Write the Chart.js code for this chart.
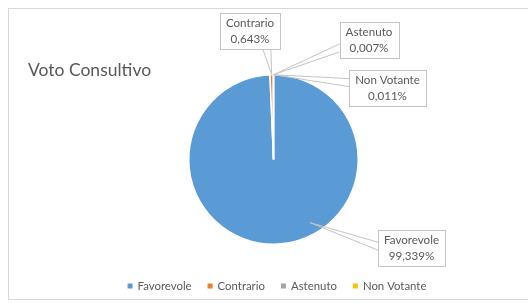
<!DOCTYPE html>
<html>
<head>
<meta charset="utf-8">
<script src="https://cdn.jsdelivr.net/npm/chart.js@4"></script>
<style>
  html, body { margin: 0; padding: 0; background: #fff; overflow: hidden; }
  #frame { position: absolute; left: 8px; top: 8px; width: 540px; height: 290px; border: 1px solid #d9d9d9; }
  #wrap { position: absolute; left: 0; top: 0; width: 528px; height: 303px; }
</style>
</head>
<body>
<div id="frame"></div>
<div id="wrap"><canvas id="myChart" width="528" height="303"></canvas></div>
<script>
// data
const chartTitle = 'Voto Consultivo';
const categories = ['Favorevole', 'Contrario', 'Astenuto', 'Non Votante'];
const percentages = [99.339, 0.643, 0.007, 0.011];
const colors = ['#5B9BD5', '#ED7D31', '#A5A5A5', '#FFC000'];

// callout box centres and where the wedge meets the box
const calloutBoxes = [
    { cx: 411.5, cy: 248, side: 'left', at: 0.45, anchorAngle: 150, anchorR: 0.86 },
    { cx: 250, cy: 31, side: 'bottom', at: 0.78 },
    { cx: 369, cy: 40, side: 'left', at: 0.72 },
    { cx: 387.5, cy: 88, side: 'left', at: 0.35 }
];

const textColor = '#595959';
const fontFamily = 'Lato, "Open Sans", sans-serif';

function fmt(v) {
    return v.toFixed(3).replace('.', ',') + '%';
}

const calloutPlugin = {
    id: 'callouts',
    afterDraw(chart) {
        const ctx = chart.ctx;
        const meta = chart.getDatasetMeta(0);
        ctx.save();

        // title
        ctx.fillStyle = textColor;
        ctx.font = '17.5px ' + fontFamily;
        ctx.textAlign = 'left';
        ctx.textBaseline = 'middle';
        ctx.fillText(chartTitle, 28, 70);

        ctx.font = '11.6px ' + fontFamily;
        meta.data.forEach((arc, i) => {
            const p = arc.getProps(['x', 'y', 'outerRadius', 'startAngle', 'endAngle'], true);
            const box = calloutBoxes[i];
            let ang, r;
            if (box.anchorAngle !== undefined) {
                ang = (box.anchorAngle - 90) * Math.PI / 180;
                r = p.outerRadius * box.anchorR;
            } else {
                ang = (p.startAngle + p.endAngle) / 2;
                r = p.outerRadius;
            }
            const ax = p.x + Math.cos(ang) * r;
            const ay = p.y + Math.sin(ang) * r;

            const line1 = categories[i];
            const line2 = fmt(percentages[i]);
            const w = Math.max(ctx.measureText(line1).width, ctx.measureText(line2).width) + 12;
            const h = 36;
            const left = box.cx - w / 2, top = box.cy - h / 2;

            // wedge
            let b1, b2;
            if (box.side === 'left') {
                const yy = top + h * box.at;
                b1 = [left, yy - 4];
                b2 = [left, yy + 4];
            } else {
                const xx = left + w * box.at;
                b1 = [xx - 4, top + h];
                b2 = [xx + 4, top + h];
            }
            ctx.strokeStyle = '#c4c4c4';
            ctx.lineWidth = 1;
            ctx.fillStyle = '#fff';
            ctx.beginPath();
            ctx.moveTo(b1[0], b1[1]);
            ctx.lineTo(ax, ay);
            ctx.lineTo(b2[0], b2[1]);
            ctx.stroke();

            ctx.fillRect(left, top, w, h);
            ctx.strokeRect(Math.round(left) + 0.5, Math.round(top) + 0.5, Math.round(w), h);

            ctx.fillStyle = textColor;
            ctx.textAlign = 'center';
            ctx.textBaseline = 'middle';
            ctx.fillText(line1, box.cx, box.cy - 8);
            ctx.fillText(line2, box.cx, box.cy + 8);
        });

        // legend
        ctx.font = '11.4px ' + fontFamily;
        ctx.textAlign = 'left';
        ctx.textBaseline = 'middle';
        const mk = 5, gapTxt = 5, gapItem = 16;
        const widths = categories.map(c => ctx.measureText(c).width);
        const total = widths.reduce((s, v) => s + mk + gapTxt + v, 0) + gapItem * (categories.length - 1);
        let x = 277 - total / 2;
        const ly = 286;
        categories.forEach((c, i) => {
            ctx.fillStyle = colors[i];
            ctx.fillRect(x, ly - 2.5, mk, mk);
            ctx.fillStyle = textColor;
            ctx.fillText(c, x + mk + gapTxt, ly);
            x += mk + gapTxt + widths[i] + gapItem;
        });
        ctx.restore();
    }
};

new Chart(document.getElementById('myChart').getContext('2d'), {
    type: 'pie',
    data: {
        labels: categories,
        datasets: [{
            data: percentages,
            backgroundColor: colors,
            borderColor: '#ffffff',
            borderWidth: 1.5
        }]
    },
    options: {
        responsive: false,
        animation: false,
        layout: { padding: { left: 188, right: 169, top: 74, bottom: 58 } },
        plugins: {
            legend: { display: false },
            tooltip: { enabled: false }
        }
    },
    plugins: [calloutPlugin]
});
</script>
</body>
</html>
